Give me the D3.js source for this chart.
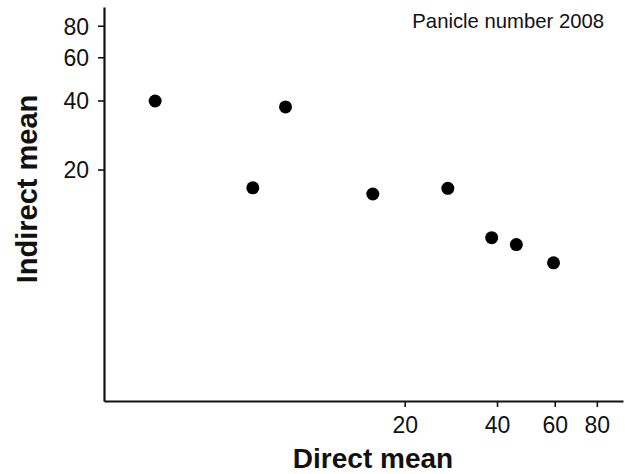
<!DOCTYPE html>
<html>
<head>
<meta charset="utf-8">
<script src="https://cdn.jsdelivr.net/npm/d3@7"></script>
<style>
  body { margin: 0; background: #fff; }
  svg { font-family: Arial, "Liberation Sans", sans-serif; }
</style>
</head>
<body>
<svg></svg>
<script>
// values
let directMean = [0.1, 4.5, 6.7, 15.4, 27.9, 38.5, 45.9, 59.5]
let indirectMean = [39.8, 16.4, 37.6, 15.3, 16.3, 9.0, 8.2, 6.3]
let xTicks = [20, 40, 60, 80]
let yTicks = [20, 40, 60, 80]
let title = 'Panicle number 2008'

let width = 625
let height = 474

let svg = d3.select('svg')
    .attr('width', width)
    .attr('height', height)

// axes look like log(v + 5)
let xScale = d3.scaleSymlog()
    .constant(5)
    .domain([-1.79, 95.4])
    .range([104, 623])

let yScale = d3.scaleSymlog()
    .constant(5)
    .domain([-2.17, 94.7])
    .range([401, 7])

let xAxis = d3.axisBottom(xScale)
    .tickValues(xTicks)
    .tickSizeOuter(0)
    .tickSizeInner(6)
    .tickPadding(10)

let yAxis = d3.axisLeft(yScale)
    .tickValues(yTicks)
    .tickSizeOuter(0)
    .tickSizeInner(6)
    .tickPadding(9)

let gx = svg.append('g')
    .attr('transform', 'translate(0,' + 401 + ')')
    .call(xAxis)

let gy = svg.append('g')
    .attr('transform', 'translate(' + 104 + ',0)')
    .call(yAxis)

for (let g of [gx, gy]) {
    g.select('.domain').attr('stroke', '#111').attr('stroke-width', 2.2)
    g.selectAll('.tick line').attr('stroke', '#111').attr('stroke-width', 1.6)
    g.selectAll('.tick text')
        .attr('fill', '#111')
        .style('font-size', '23px')
        .style('font-family', 'Arial, "Liberation Sans", sans-serif')
}
gy.selectAll('.tick text').attr('dy', '0.36em')

svg.selectAll('circle')
    .data(directMean)
    .enter()
    .append('circle')
    .attr('cx', (d) => xScale(d))
    .attr('cy', (d, i) => yScale(indirectMean[i]))
    .attr('r', 6.5)
    .attr('fill', '#000')

svg.append('text')
    .attr('x', 373)
    .attr('y', 468)
    .attr('text-anchor', 'middle')
    .style('font-size', '28px')
    .style('font-weight', 'bold')
    .attr('fill', '#111')
    .text('Direct mean')

svg.append('text')
    .attr('transform', 'translate(37,189) rotate(-90)')
    .attr('text-anchor', 'middle')
    .style('font-size', '29px')
    .style('font-weight', 'bold')
    .attr('fill', '#111')
    .text('Indirect mean')

svg.append('text')
    .attr('x', 604)
    .attr('y', 28)
    .attr('text-anchor', 'end')
    .style('font-size', '20.3px')
    .attr('fill', '#111')
    .text(title)
</script>
</body>
</html>
